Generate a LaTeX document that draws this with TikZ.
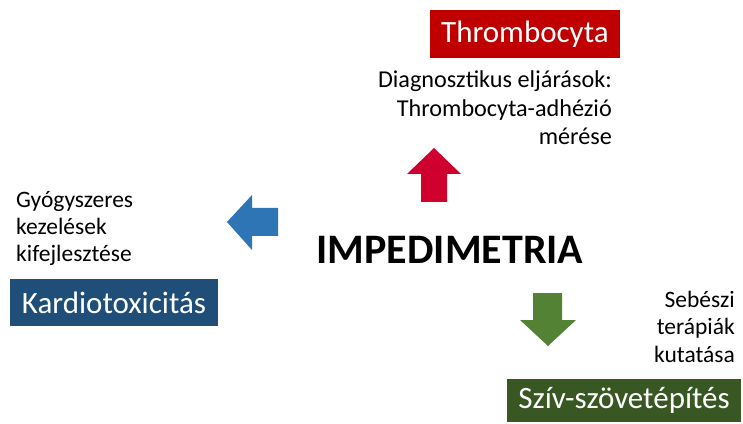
\documentclass[tikz,border=0pt]{standalone}
\usepackage{fontspec}
\setmainfont{Carlito}
\definecolor{thromboRed}{HTML}{C00000}
\definecolor{arrowRed}{HTML}{D0002E}
\definecolor{kardioBlue}{HTML}{1F4E79}
\definecolor{arrowBlue}{HTML}{2E75B6}
\definecolor{szivGreen}{HTML}{385723}
\definecolor{arrowGreen}{HTML}{548235}
\tikzset{
  boxlabel/.style={inner sep=0pt, text=white, font=\fontsize{31}{36}\selectfont},
  sidetext/.style={inner sep=0pt, font=\fontsize{23.5}{27.2}\selectfont}
}
\begin{document}
\begin{tikzpicture}[x=1pt,y=1pt]
   \useasboundingbox (0,0) rectangle (743,423);
   % centre
   \node[anchor=base, inner sep=0pt, font=\fontsize{42}{48}\selectfont\bfseries] (impedimetria) at (450,160) {IMPEDIMETRIA};
   % top: thrombocyta
   \node[boxlabel, fill=thromboRed, minimum width=190pt, minimum height=48pt] (thrombo) at (525,389) {Thrombocyta};
   \node[sidetext, anchor=base east, align=right, font=\fontsize{24.2}{28.8}\selectfont] (diag) at (612,278) {Diagnosztikus eljárások:\\Thrombocyta-adhézió\\mérése};
   \fill[arrowRed] (421,221) -- (447,221) -- (447,249) -- (461,249) -- (434,275) -- (407,249) -- (421,249) -- cycle;
   % left: kardiotoxicitas
   \node[boxlabel, fill=kardioBlue, minimum width=208pt, minimum height=47pt] (kardio) at (114,120.5) {Kardiotoxicitás};
   \node[sidetext, anchor=base west, align=left] (gyogy) at (16,161) {Gyógyszeres\\kezelések\\kifejlesztése};
   \fill[arrowBlue] (278,215) -- (278,187) -- (252,187) -- (252,173) -- (227,201) -- (252,228) -- (252,215) -- cycle;
   % bottom right: sziv
   \node[boxlabel, fill=szivGreen, minimum width=234pt, minimum height=43pt] (sziv) at (624,22.5) {Szív-szövetépítés};
   \node[sidetext, anchor=base east, align=right] (sebesz) at (735,61) {Sebészi\\terápiák\\kutatása};
   \fill[arrowGreen] (533,130) -- (562,130) -- (562,103) -- (576,103) -- (548,77) -- (520,103) -- (533,103) -- cycle;
\end{tikzpicture}
\end{document}
